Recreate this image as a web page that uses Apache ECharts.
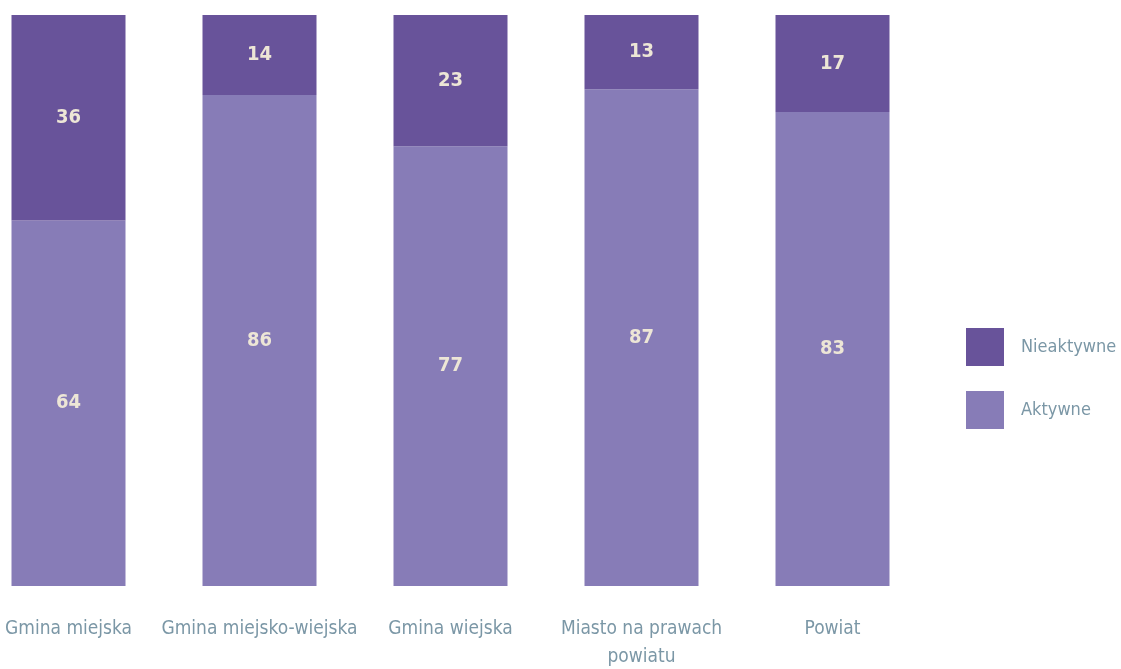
<!DOCTYPE html>
<html>
<head>
<meta charset="utf-8">
<script src="https://cdn.jsdelivr.net/npm/echarts@6/dist/echarts.min.js"></script>
<style>
  html, body { margin: 0; padding: 0; background: #fff; }
  #chart { width: 1121px; height: 669px; }
</style>
</head>
<body>
<div id="chart"></div>
<script>
const categories = ['Gmina miejska', 'Gmina miejsko-wiejska', 'Gmina wiejska', 'Miasto na prawach\npowiatu', 'Powiat']
const aktywne = [64, 86, 77, 87, 83]
const nieaktywne = [36, 14, 23, 13, 17]

const font = '"Liberation Sans Narrow", "DejaVu Sans Condensed", sans-serif'
const labelColor = '#ede6d6'
const textColor = '#7b97a6'

const chart = echarts.init(document.getElementById('chart'))
chart.setOption({
  animation: false,
  grid: {
    left: -27,
    width: 955,
    top: 15,
    bottom: 83,
    containLabel: false,
    outerBoundsMode: 'none'
  },
  legend: {
    orient: 'vertical',
    left: 961,
    top: 323,
    itemWidth: 38,
    itemHeight: 38,
    itemGap: 25,
    icon: 'rect',
    data: ['Nieaktywne', 'Aktywne'],
    textStyle: { fontFamily: font, fontSize: 18, color: textColor, padding: [0, 0, 0, 12] }
  },
  xAxis: {
    type: 'category',
    data: categories,
    axisLine: { show: false },
    axisTick: { show: false },
    axisLabel: {
      interval: 0,
      margin: 29,
      fontFamily: font,
      fontSize: 19,
      lineHeight: 28,
      color: textColor
    }
  },
  yAxis: {
    type: 'value',
    min: 0,
    max: 100,
    show: false
  },
  series: [
    {
      name: 'Aktywne',
      type: 'bar',
      stack: 'total',
      barWidth: 114,
      data: aktywne,
      itemStyle: { color: '#877cb7' },
      label: {
        show: true,
        position: 'inside',
        fontFamily: font,
        fontWeight: 'bold',
        fontSize: 20,
        color: labelColor
      }
    },
    {
      name: 'Nieaktywne',
      type: 'bar',
      stack: 'total',
      barWidth: 114,
      data: nieaktywne,
      itemStyle: { color: '#68539a' },
      label: {
        show: true,
        position: 'inside',
        fontFamily: font,
        fontWeight: 'bold',
        fontSize: 20,
        color: labelColor
      }
    }
  ]
})
</script>
</body>
</html>
